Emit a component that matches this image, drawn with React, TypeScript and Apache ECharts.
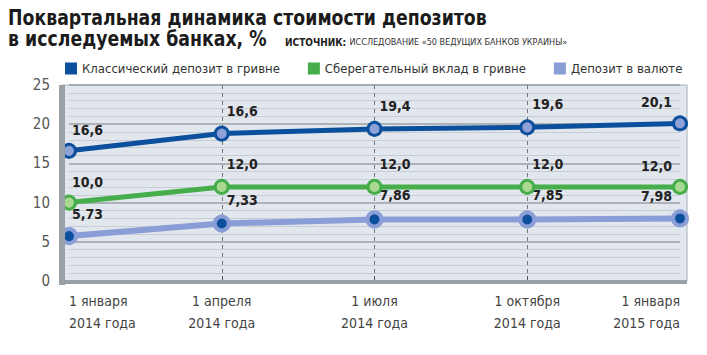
import React, { useEffect, useRef } from "react";
import * as echarts from "echarts";

const categories = [
  "1 января\n2014 года",
  "1 апреля\n2014 года",
  "1 июля\n2014 года",
  "1 октября\n2014 года",
  "1 января\n2015 года",
];
const seriesNames = [
  "Классический депозит в гривне",
  "Сберегательный вклад в гривне",
  "Депозит в валюте",
];
const classicValues = [16.6, 18.8, 19.4, 19.6, 20.1];
const classicLabels = ["16,6", "16,6", "19,4", "19,6", "20,1"];
const savingValues = [10.0, 12.0, 12.0, 12.0, 12.0];
const savingLabels = ["10,0", "12,0", "12,0", "12,0", "12,0"];
const currencyValues = [5.73, 7.33, 7.86, 7.85, 7.98];
const currencyLabels = ["5,73", "7,33", "7,86", "7,85", "7,98"];
const yTicks = [0, 5, 10, 15, 20, 25];

const NARROW = "'DejaVu Sans Condensed', 'Liberation Sans Narrow', Roboto, sans-serif";

const DARK = "#0c4f9c";
const GREEN = "#45ad4a";
const LIGHT = "#8a9dd6";
const seriesColors = [DARK, GREEN, LIGHT];

function makeData(values: number[], labels: string[]) {
  return values.map((v, i) => {
    const last = i === values.length - 1;
    const first = i === 0;
    return {
      value: v,
      label: {
        show: true,
        formatter: labels[i],
        position: "top",
        distance: 6,
        align: last ? "right" : "left",
        offset: last ? [-8, 0] : first ? [3, 0] : [5, -2],
      },
    };
  });
}

export default function App() {
  const ref = useRef<HTMLDivElement>(null);
  useEffect(() => {
    if (!ref.current) return;
    const chart = echarts.init(ref.current, undefined, { renderer: "svg" });
    const labelStyle = {
      fontFamily: NARROW,
      fontWeight: "bold",
      fontSize: 14,
      color: "#222",
    };
    chart.setOption({
      animation: false,
      backgroundColor: "#ffffff",
      graphic: [
        {
          type: "rect",
          z: -10,
          shape: { x: 62, y: 85, width: 625, height: 196 },
          style: { fill: "#e2e7ed", stroke: "#a9afb6", lineWidth: 1 },
        },
        {
          type: "rect",
          z: 10,
          shape: { x: 59, y: 85, width: 6, height: 200 },
          style: { fill: "#9ba0a6" },
        },
        {
          type: "rect",
          z: 10,
          shape: { x: 59, y: 280, width: 628, height: 4 },
          style: { fill: "#9ba0a6" },
        },
        {
          type: "text",
          x: 8,
          y: 7,
          scaleX: 0.918,
          style: {
            text: "Поквартальная динамика стоимости депозитов",
            fontFamily: NARROW,
            fontWeight: "bold",
            fontSize: 21,
            fill: "#1b1b1b",
            verticalAlign: "top",
          },
        },
        {
          type: "text",
          x: 8,
          y: 28,
          scaleX: 0.918,
          style: {
            text: "в исследуемых банках, %",
            fontFamily: NARROW,
            fontWeight: "bold",
            fontSize: 21,
            fill: "#1b1b1b",
            verticalAlign: "top",
          },
        },
        {
          type: "text",
          x: 285,
          y: 36,
          style: {
            text: "{b|ИСТОЧНИК:} {n|ИССЛЕДОВАНИЕ «50 ВЕДУЩИХ БАНКОВ УКРАИНЫ»}",
            verticalAlign: "top",
            rich: {
              b: { fontFamily: NARROW, fontWeight: "bold", fontSize: 10, fill: "#222" },
              n: { fontFamily: NARROW, fontSize: 9, fill: "#333" },
            },
          },
        },
      ],
      legend: {
        left: 65,
        top: 62,
        width: 640,
        padding: 0,
        icon: "rect",
        itemWidth: 12,
        itemHeight: 12,
        itemGap: 28,
        textStyle: { fontFamily: NARROW, fontSize: 13, color: "#333" },
        data: seriesNames.map((name, i) => ({
          name,
          itemStyle: { color: seriesColors[i], borderWidth: 0 },
        })),
      },
      grid: { left: 69, right: 27, top: 85, bottom: 74, containLabel: false },
      xAxis: {
        type: "category",
        data: categories,
        boundaryGap: false,
        axisLine: { show: false },
        axisTick: {
          show: true,
          inside: true,
          length: 5,
          interval: (i: number) => i > 0 && i < categories.length - 1,
          lineStyle: { color: "#555" },
        },
        splitLine: {
          show: true,
          interval: (i: number) => i > 0 && i < categories.length - 1,
          lineStyle: { color: "#777", type: [4, 4], width: 1 },
        },
        axisLabel: {
          margin: 9,
          fontFamily: NARROW,
          fontSize: 14,
          lineHeight: 22,
          color: "#444",
          alignMinLabel: "left",
          alignMaxLabel: "right",
        },
      },
      yAxis: {
        type: "value",
        min: yTicks[0],
        max: yTicks[yTicks.length - 1],
        interval: 5,
        offset: 7,
        axisLine: { show: false },
        axisTick: { show: false },
        axisLabel: {
          margin: 12,
          fontFamily: NARROW,
          fontSize: 15,
          color: "#555",
        },
        splitLine: { show: true, lineStyle: { color: "#9aa0a6", width: 1.5 } },
        minorTick: { show: false, splitNumber: 5 },
        minorSplitLine: { show: true, lineStyle: { color: "#c6cdd6", width: 1 } },
      },
      series: [
        {
          name: seriesNames[0],
          type: "line",
          data: makeData(classicValues, classicLabels),
          symbol: "circle",
          symbolSize: 13,
          lineStyle: { color: DARK, width: 5 },
          itemStyle: { color: "#8fa2d8", borderColor: DARK, borderWidth: 3 },
          label: labelStyle,
          z: 5,
        },
        {
          name: seriesNames[1],
          type: "line",
          data: makeData(savingValues, savingLabels),
          symbol: "circle",
          symbolSize: 13,
          lineStyle: { color: GREEN, width: 5 },
          itemStyle: { color: "#a9d991", borderColor: GREEN, borderWidth: 3 },
          label: labelStyle,
          z: 4,
        },
        {
          name: seriesNames[2],
          type: "line",
          data: makeData(currencyValues, currencyLabels),
          symbol: "circle",
          symbolSize: 14,
          lineStyle: { color: LIGHT, width: 6 },
          itemStyle: { color: DARK, borderColor: LIGHT, borderWidth: 4 },
          label: labelStyle,
          z: 3,
        },
      ],
      color: seriesColors,
    });
    return () => chart.dispose();
  }, []);
  return (
    <div
      ref={ref}
      style={{ position: "absolute", left: 0, top: 0, width: 707, height: 355 }}
    />
  );
}
